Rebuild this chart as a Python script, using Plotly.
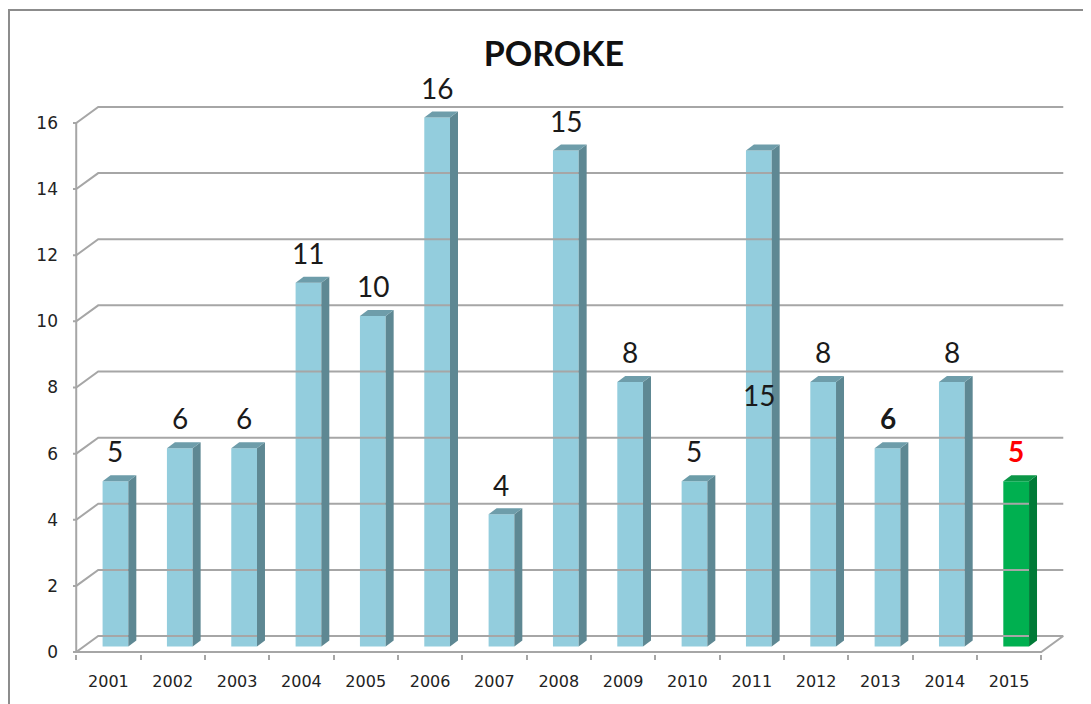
import plotly.graph_objects as go

# ---- data ----
years = ["2001", "2002", "2003", "2004", "2005", "2006", "2007", "2008",
         "2009", "2010", "2011", "2012", "2013", "2014", "2015"]
values = [5, 6, 6, 11, 10, 16, 4, 15, 8, 5, 15, 8, 6, 8, 5]
y_ticks = [0, 2, 4, 6, 8, 10, 12, 14, 16]
title_text = "POROKE"

# label styling (2011 label sits inside its bar in the original)
label_shift = [0, 0, 0, 0, 0, 0, 0, 0, 0, 0, -8.3, 0, 0, 0, 0]
label_bold = [False] * 12 + [True, False, True]
label_color = ["#1a1a1a"] * 14 + ["#FF0000"]
bar_group = ["blue"] * 14 + ["green"]

# ---- 3D look parameters (axis units) ----
WALL_DX, WALL_DY = 0.342, 0.484      # depth of floor/back wall
BAR_X, BAR_Y = 0.11, 0.166           # bar front plane offset
BAR_W = 0.40                          # bar front width
DEP_X, DEP_Y = 0.124, 0.18           # bar depth
LABEL_GAP = 0.9

COLORS = {
    "blue": dict(front="#93CDDD", side="#5E8893", top="#6E9DAA"),
    "green": dict(front="#00B050", side="#007A37", top="#0B9747"),
}
GRID = "#A6A6A6"

n = len(years)
xs = list(range(n))
x_left, x_right = -0.5, n - 0.5

fig = go.Figure()

# back wall + side wall gridlines, y axis line, y ticks
gx, gy = [], []
for v in y_ticks:
    gx += [x_left - 0.08, x_left, x_left + WALL_DX, x_right + WALL_DX, None]
    gy += [v, v, v + WALL_DY, v + WALL_DY, None]
gx += [x_left, x_left, None]
gy += [0, y_ticks[-1], None]
# front floor edge and right floor corner
gx += [x_left, x_right, x_right + WALL_DX, None]
gy += [0, 0, WALL_DY, None]
fig.add_trace(go.Scatter(x=gx, y=gy, mode="lines",
                         line=dict(color=GRID, width=2),
                         hoverinfo="skip", showlegend=False))

# bars: front faces via go.Bar, side/top faces via polygons
for grp in ["blue", "green"]:
    idx = [i for i in range(n) if bar_group[i] == grp]
    c = COLORS[grp]
    sx, sy, tx, ty = [], [], [], []
    for i in idx:
        v = values[i]
        xl = xs[i] + BAR_X - BAR_W / 2
        xr = xs[i] + BAR_X + BAR_W / 2
        yb, yt = BAR_Y, BAR_Y + v
        sx += [xr, xr + DEP_X, xr + DEP_X, xr, xr, None]
        sy += [yb, yb + DEP_Y, yt + DEP_Y, yt, yb, None]
        tx += [xl, xr, xr + DEP_X, xl + DEP_X, xl, None]
        ty += [yt, yt, yt + DEP_Y, yt + DEP_Y, yt, None]
    fig.add_trace(go.Scatter(x=sx, y=sy, mode="lines", fill="toself",
                             fillcolor=c["side"], line=dict(width=0, color=c["side"]),
                             hoverinfo="skip", showlegend=False))
    fig.add_trace(go.Scatter(x=tx, y=ty, mode="lines", fill="toself",
                             fillcolor=c["top"], line=dict(width=0, color=c["top"]),
                             hoverinfo="skip", showlegend=False))
    fig.add_trace(go.Bar(x=[xs[i] + BAR_X for i in idx],
                         y=[values[i] for i in idx],
                         base=BAR_Y, width=BAR_W,
                         marker=dict(color=c["front"], line=dict(width=0)),
                         showlegend=False))

# value labels
for i in range(n):
    txt = f"<b>{values[i]}</b>" if label_bold[i] else str(values[i])
    fig.add_annotation(x=xs[i] + BAR_X, y=values[i] + BAR_Y + LABEL_GAP + label_shift[i],
                       text=txt, showarrow=False, xanchor="center", yanchor="middle",
                       font=dict(family="Lato, Open Sans, sans-serif", size=28,
                                 color=label_color[i]))

# outer chart border
fig.add_shape(type="rect", xref="paper", yref="paper",
              x0=-0.0644, x1=1.03, y0=-0.1, y1=1.122,
              line=dict(color="#8C8C8C", width=2), fillcolor="rgba(0,0,0,0)")

fig.update_layout(
    width=1083, height=696,
    margin=dict(l=65, r=24, t=72, b=50),
    paper_bgcolor="white", plot_bgcolor="white",
    barmode="overlay",
    title=dict(text=f"<b>{title_text}</b>", x=0.504, y=0.934,
               xref="container", yref="container",
               xanchor="center", yanchor="middle",
               font=dict(family="Lato, Open Sans, sans-serif", size=34, color="#111111")),
    xaxis=dict(range=[-0.55, 14.9], tickmode="array", tickvals=xs, ticktext=years,
               ticks="", showgrid=False, zeroline=False, showline=False,
               ticklabelstandoff=16,
               tickfont=dict(family="DejaVu Sans", size=16, color="#222222"),
               minor=dict(tick0=-0.5, dtick=1, ticks="outside", ticklen=5,
                          tickcolor=GRID, tickwidth=2, showgrid=False)),
    yaxis=dict(range=[-0.06, 17.3], tickmode="array", tickvals=y_ticks,
               ticks="", showgrid=False, zeroline=False, showline=False,
               ticklabelstandoff=14,
               tickfont=dict(family="DejaVu Sans", size=17, color="#222222")),
)

fig.write_html("out.html")
